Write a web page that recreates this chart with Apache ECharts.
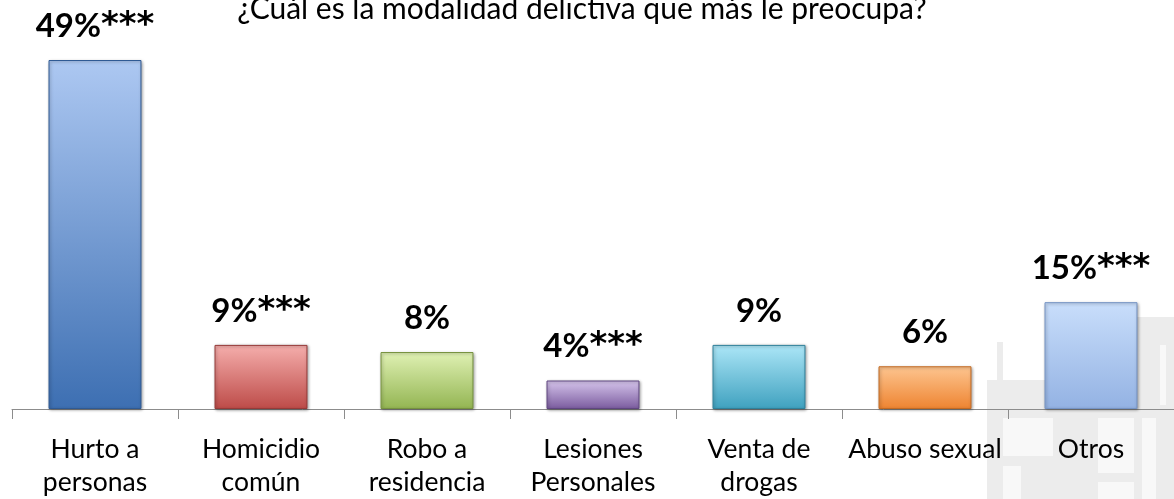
<!DOCTYPE html>
<html>
<head>
<meta charset="utf-8">
<script src="https://cdn.jsdelivr.net/npm/echarts@6/dist/echarts.min.js"></script>
<style>
html, body { margin: 0; padding: 0; background: #fff; }
#chart { width: 1174px; height: 499px; }
</style>
</head>
<body>
<div id="chart"></div>
<script>
// categorias y valores (%)
var categorias = ['Hurto a\npersonas', 'Homicidio\ncomún', 'Robo a\nresidencia', 'Lesiones\nPersonales', 'Venta de\ndrogas', 'Abuso sexual', 'Otros'];
var valores = [49, 9, 8, 4, 9, 6, 15];
var etiquetas = ['49%', '9%', '8%', '4%', '9%', '6%', '15%'];
var marcas = ['***', '***', '', '***', '', '', '***'];
var colorArriba = ['#adc8f2', '#f5aeac', '#e0f1b4', '#d6c5ec', '#ace6f7', '#fdc590', '#c9defb'];
var colorAbajo = ['#3d6fb2', '#bd4b48', '#93b552', '#7a5b9e', '#3fa1bf', '#ee8431', '#93b2e3'];
var colorBorde = ['#2f5a94', '#963a38', '#76923f', '#5f4680', '#2f819b', '#c46a22', '#7593c4'];

var myChart = echarts.init(document.getElementById('chart'));

// edificio gris de fondo (marca de agua)
var gris = '#ececec', claro = '#f8f8f8';
var fondo = [
	{ type: 'rect', shape: { x: 987, y: 380, width: 187, height: 119 }, style: { fill: gris } },
	{ type: 'rect', shape: { x: 1055, y: 317, width: 119, height: 63 }, style: { fill: gris } },
	{ type: 'rect', shape: { x: 997, y: 342, width: 6, height: 38 }, style: { fill: gris } },
	{ type: 'rect', shape: { x: 1160, y: 345, width: 6, height: 60 }, style: { fill: claro } },
	{ type: 'rect', shape: { x: 1003, y: 418, width: 50, height: 38 }, style: { fill: claro } },
	{ type: 'rect', shape: { x: 1003, y: 466, width: 18, height: 33 }, style: { fill: claro } },
	{ type: 'rect', shape: { x: 1098, y: 418, width: 36, height: 55 }, style: { fill: claro } },
	{ type: 'rect', shape: { x: 1142, y: 418, width: 14, height: 81 }, style: { fill: claro } },
	{ type: 'rect', shape: { x: 1098, y: 482, width: 36, height: 17 }, style: { fill: claro } }
];

var datos = [];
for (var i = 0; i < valores.length; i++) {
	datos.push({
		value: valores[i],
		itemStyle: {
			color: new echarts.graphic.LinearGradient(0, 0, 0, 1, [
				{ offset: 0, color: colorArriba[i] },
				{ offset: 1, color: colorAbajo[i] }
			]),
			borderColor: colorBorde[i],
			borderWidth: 1,
			shadowColor: 'rgba(0,0,0,0.35)',
			shadowBlur: 3,
			shadowOffsetX: 1,
			shadowOffsetY: 1
		}
	});
}

myChart.setOption({
	animation: false,
	graphic: fondo,
	title: {
		text: '¿Cuál es la modalidad delictiva que más le preocupa?',
		left: 577,
		textAlign: 'center',
		top: -11,
		textStyle: { fontFamily: 'Lato', fontWeight: 'normal', fontSize: 30, color: '#000' }
	},
	grid: { left: 12, right: -14, top: 60, bottom: 89 },
	xAxis: {
		type: 'category',
		data: categorias,
		axisLine: { lineStyle: { color: '#8c8c8c', width: 1 } },
		axisTick: { show: true, length: 10, lineStyle: { color: '#8c8c8c' } },
		axisLabel: { interval: 0, margin: 24, fontFamily: 'Lato', fontSize: 26.5, lineHeight: 33, color: '#000' }
	},
	yAxis: { type: 'value', min: 0, max: 49, show: false, splitLine: { show: false } },
	series: [{
		type: 'bar',
		barWidth: '56%',
		data: datos,
		label: {
			show: true,
			position: 'top',
			distance: 16,
			color: '#000',
			formatter: function (p) {
				var s = '{v|' + etiquetas[p.dataIndex] + '}';
				if (marcas[p.dataIndex]) s += '{s|' + marcas[p.dataIndex] + '}';
				return s;
			},
			rich: {
				v: { fontFamily: 'Lato', fontWeight: 'bold', fontSize: 33, lineHeight: 36, color: '#000' },
				s: { fontFamily: 'DejaVu Sans', fontWeight: 'bold', fontSize: 34, lineHeight: 36, color: '#000' }
			}
		}
	}]
});
</script>
</body>
</html>
